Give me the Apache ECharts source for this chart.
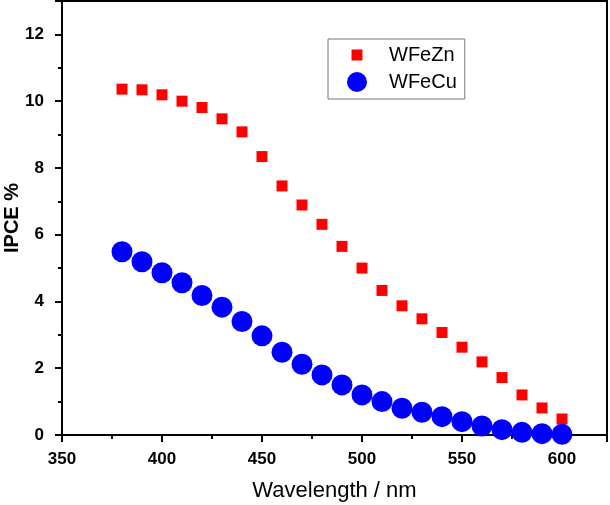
<!DOCTYPE html>
<html>
<head>
<meta charset="utf-8">
<script src="https://cdn.jsdelivr.net/npm/echarts@6/dist/echarts.min.js"></script>
<style>
  html, body { margin: 0; padding: 0; background: #fff; }
  #chart { width: 610px; height: 505px; }
</style>
</head>
<body>
<div id="chart"></div>
<script>
// wavelength (nm)
var wavelengths = [380, 390, 400, 410, 420, 430, 440, 450, 460, 470, 480, 490,
  500, 510, 520, 530, 540, 550, 560, 570, 580, 590, 600];
// IPCE values
var wfezn = [10.36, 10.34, 10.19, 10.0, 9.81, 9.47, 9.08, 8.34, 7.46, 6.89, 6.31, 5.65,
  5.0, 4.33, 3.87, 3.48, 3.07, 2.63, 2.19, 1.72, 1.2, 0.81, 0.48];
var wfecu = [5.49, 5.19, 4.86, 4.56, 4.18, 3.83, 3.4, 2.97, 2.48, 2.12, 1.8, 1.5,
  1.2, 1.0, 0.8, 0.68, 0.55, 0.4, 0.27, 0.16, 0.08, 0.04, 0.02];

function pairs(xs, ys) {
  return xs.map(function (x, i) { return [x, ys[i]]; });
}

var font = 'Liberation Sans, Arial, sans-serif';
var myChart = echarts.init(document.getElementById('chart'));
myChart.setOption({
  animation: false,
  backgroundColor: '#fff',
  grid: {
    left: 62, right: 3, top: 1, bottom: 70,
    containLabel: false,
    outerBoundsMode: 'none',
    show: true, borderColor: '#000', borderWidth: 2
  },
  legend: {
    orient: 'vertical',
    left: 328, top: 39,
    padding: [6, 8, 7, 19],
    itemGap: 7,
    itemWidth: 20, itemHeight: 20,
    borderColor: '#777', borderWidth: 1,
    backgroundColor: '#fff',
    textStyle: { fontFamily: font, fontSize: 20, color: '#000', padding: [0, 0, 0, 17] },
    data: [
      { name: 'WFeZn', icon: 'path://M0,0 M20,20 M4.5,4.5 L15.5,4.5 L15.5,15.5 L4.5,15.5 Z' },
      { name: 'WFeCu', icon: 'circle' }
    ]
  },
  xAxis: {
    type: 'value',
    min: 350, max: 622.5, interval: 50,
    name: 'Wavelength / nm',
    nameLocation: 'middle', nameGap: 45,
    nameMoveOverlap: false,
    nameTextStyle: { fontFamily: font, fontSize: 22, color: '#000' },
    axisLine: { lineStyle: { color: '#000', width: 2 } },
    axisTick: { inside: false, length: 7, lineStyle: { color: '#000', width: 2 } },
    minorTick: { show: true, splitNumber: 2, length: 4, lineStyle: { color: '#000', width: 2 } },
    axisLabel: { fontFamily: font, fontSize: 17, fontWeight: 'bold', color: '#000', margin: 16, showMaxLabel: false },
    splitLine: { show: false }
  },
  yAxis: {
    type: 'value',
    min: 0, max: 13, interval: 2,
    name: 'IPCE %',
    nameLocation: 'middle', nameGap: 40,
    nameMoveOverlap: false,
    nameTextStyle: { fontFamily: font, fontSize: 20, fontWeight: 'bold', color: '#000' },
    axisLine: { lineStyle: { color: '#000', width: 2 } },
    axisTick: { inside: false, length: 7, lineStyle: { color: '#000', width: 2 } },
    minorTick: { show: true, splitNumber: 2, length: 4, lineStyle: { color: '#000', width: 2 } },
    axisLabel: { fontFamily: font, fontSize: 17, fontWeight: 'bold', color: '#000', margin: 18, showMaxLabel: false },
    splitLine: { show: false }
  },
  series: [
    {
      name: 'WFeZn',
      type: 'scatter',
      symbol: 'rect',
      symbolSize: 11,
      itemStyle: { color: '#ff0000', opacity: 1 },
      data: pairs(wavelengths, wfezn)
    },
    {
      name: 'WFeCu',
      type: 'scatter',
      symbol: 'circle',
      symbolSize: 21,
      itemStyle: { color: '#0000ff', opacity: 1 },
      data: pairs(wavelengths, wfecu)
    }
  ]
});
</script>
</body>
</html>
